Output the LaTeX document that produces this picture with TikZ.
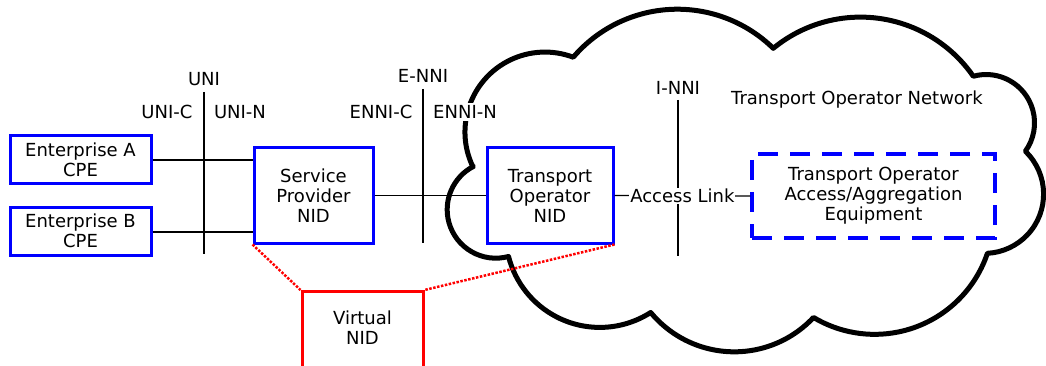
\documentclass[tikz,border=0pt]{standalone}
\usepackage{fontspec}
\setmainfont{DejaVu Sans}
\usepackage{tikz}
\tikzset{
    txt/.style={font=\fontsize{18}{20}\selectfont, align=center, inner sep=2pt},
    bluebox/.style={txt, draw=blue, line width=3pt, fill=white},
    dashbox/.style={txt, draw=blue, line width=3.5pt, dash pattern=on 20pt off 12pt, fill=white},
    wire/.style={line width=1.3pt},
    reddot/.style={red, line width=2.5pt, dash pattern=on 2.5pt off 1.5pt},
}

\begin{document}
\begin{tikzpicture}[x=1pt, y=-1pt]
    \useasboundingbox (0,0) rectangle (1046,366);

    % Cloud
    \draw[line width=5pt, line join=round] (473,167)
        arc[start angle=154.1, end angle=290.7, radius=80]
        arc[start angle=220.5, end angle=314.4, radius=137]
        arc[start angle=230.6, end angle=325.3, radius=137.3]
        arc[start angle=254.6, end angle=395.9, radius=48.4]
        arc[start angle=-46.2, end angle=87, radius=59.3]
        arc[start angle=18.6, end angle=120.9, radius=119]
        arc[start angle=43.1, end angle=140.4, radius=108.5]
        arc[start angle=57.3, end angle=165.7, radius=94.2]
        arc[start angle=74.8, end angle=242.6, radius=48.6]
        -- cycle;
    \node[txt] (ton) at (857,100) {Transport Operator Network};

    % Interfaces
    \node[txt] (uni) at (204,79) {UNI};
    \node[txt] (unic) at (167,112) {UNI-C};
    \node[txt] (unin) at (240,112) {UNI-N};
    \draw[wire] (204,92) -- (204,254);
    \node[txt] (enni) at (423,76) {E-NNI};
    \node[txt] (ennic) at (381,112) {ENNI-C};
    \node[txt, fill=white] (ennin) at (465,112) {ENNI-N};
    \draw[wire] (423,89) -- (423,243);
    \node[txt] (inni) at (678,88) {I-NNI};
    \draw[wire] (678,100) -- (678,256);

    % Boxes
    \node[bluebox, minimum width=141pt, minimum height=48pt] (cpeA) at (80.5,160) {Enterprise A\\CPE};
    \node[bluebox, minimum width=141pt, minimum height=48pt] (cpeB) at (80.5,231) {Enterprise B\\CPE};
    \node[bluebox, minimum width=119pt, minimum height=95pt] (spnid) at (313.5,195.5) {Service\\Provider\\NID};
    \node[bluebox, minimum width=126pt, minimum height=95pt] (tonid) at (550,195.5) {Transport\\Operator\\NID};
    \node[dashbox, minimum width=243pt, minimum height=84pt] (aae) at (873.5,196) {Transport Operator\\Access/Aggregation\\Equipment};
    \node[draw=red, line width=3pt, minimum width=121pt, minimum height=110pt, anchor=north] (vnid) at (362.5,290) {};
    \node[txt] (vnidtxt) at (362.5,328) {Virtual\\NID};

    % Links
    \draw[wire] (cpeA.east) -- (cpeA.east -| spnid.west);
    \draw[wire] ([yshift=-1pt]cpeB.east) -- ([yshift=-1pt]cpeB.east -| spnid.west);
    \draw[wire] (spnid.east) -- (tonid.west);
    \draw[wire] (tonid.east) -- node[txt, fill=white, inner sep=1pt] (alink) {Access Link} (aae.west);
    \draw[reddot] (spnid.south west) -- (vnid.north west);
    \draw[reddot] (tonid.south east) -- (vnid.north east);
\end{tikzpicture}
\end{document}
